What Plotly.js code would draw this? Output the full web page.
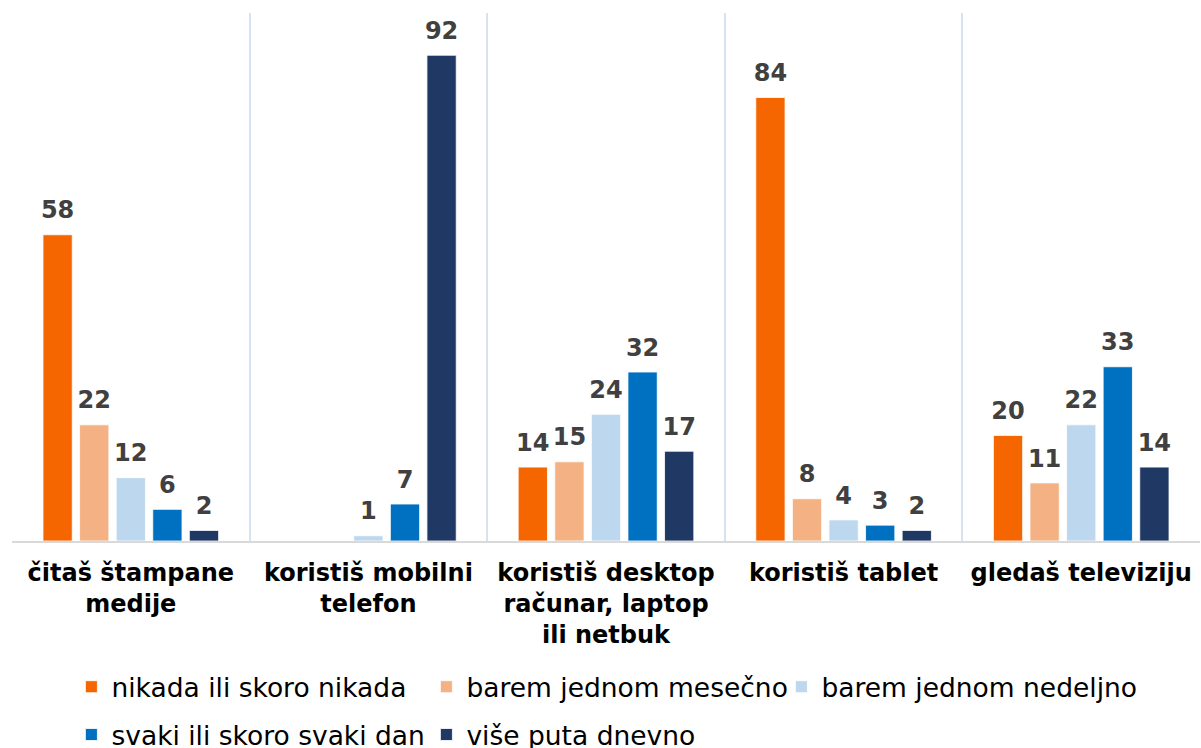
<!DOCTYPE html>
<html>
<head>
<meta charset="utf-8">
<script src="https://cdn.plot.ly/plotly-3.0.1.min.js"></script>
<style>html,body{margin:0;padding:0;background:#fff;}#chart{width:1201px;height:748px;}</style>
</head>
<body>
<div id="chart"></div>
<script>
const categories = [
  "čitaš štampane<br>medije",
  "koristiš mobilni<br>telefon",
  "koristiš desktop<br>računar, laptop<br>ili netbuk",
  "koristiš tablet",
  "gledaš televiziju"
];
const seriesNames = [
  "nikada ili skoro nikada",
  "barem jednom mesečno",
  "barem jednom nedeljno",
  "svaki ili skoro svaki dan",
  "više puta dnevno"
];
const nikada = [58, null, 14, 84, 20];
const mesecno = [22, null, 15, 8, 11];
const nedeljno = [12, 1, 24, 4, 22];
const svakiDan = [6, 7, 32, 3, 33];
const viseDnevno = [2, 92, 17, 2, 14];
const seriesValues = [nikada, mesecno, nedeljno, svakiDan, viseDnevno];
const colors = ["#F56600", "#F4B183", "#BDD7EE", "#0070C0", "#203864"];

const FONT = "DejaVu Sans, Verdana, sans-serif";

const barTraces = seriesValues.map((vals, i) => ({
  type: "bar",
  name: seriesNames[i],
  legend: i < 3 ? "legend" : "legend2",
  x: categories,
  y: vals,
  marker: {color: colors[i], line: {color: "#ffffff", width: 0.8}},
  hoverinfo: "x+y+name"
}));

const labelTraces = seriesValues.map((vals, i) => ({
  type: "scatter",
  mode: "markers+text",
  showlegend: false,
  x: categories,
  y: vals,
  text: vals.map(v => v === null ? "" : String(v)),
  textposition: "top center",
  textfont: {family: FONT, size: 24, color: "#404040", weight: "bold"},
  marker: {size: 15, opacity: 0},
  cliponaxis: false,
  hoverinfo: "skip"
}));

const legendCommon = {
  orientation: "h",
  xanchor: "left",
  yanchor: "middle",
  font: {family: FONT, size: 26.5, color: "#000000"},
  traceorder: "normal",
  itemclick: false,
  entrywidth: 310,
  entrywidthmode: "pixels",
  bgcolor: "rgba(0,0,0,0)"
};

const layout = {
  width: 1201,
  height: 748,
  margin: {l: 12, r: 1, t: 13, b: 207, autoexpand: false},
  paper_bgcolor: "#ffffff",
  plot_bgcolor: "#ffffff",
  font: {family: FONT, color: "#000000"},
  barmode: "group",
  bargap: 0.23,
  bargroupgap: 0.2,
  scattermode: "group",
  scattergap: 0.23,
  xaxis: {
    type: "category",
    tickson: "boundaries",
    showgrid: true,
    gridcolor: "#D6E4F2",
    gridwidth: 2,
    showline: true,
    linecolor: "#D9D9D9",
    linewidth: 2,
    ticks: "",
    tickfont: {family: FONT, size: 24, color: "#000000", weight: "bold"},
    ticklabelstandoff: 9,
    automargin: false,
    fixedrange: true
  },
  yaxis: {
    range: [0, 100],
    visible: false,
    showgrid: false,
    zeroline: false,
    fixedrange: true
  },
  showlegend: true,
  legend: Object.assign({}, legendCommon, {x: 0.05, y: -0.2765}),
  legend2: Object.assign({}, legendCommon, {x: 0.05, y: -0.367})
};

Plotly.newPlot("chart", barTraces.concat(labelTraces), layout, {displayModeBar: false, staticPlot: true});
</script>
</body>
</html>
